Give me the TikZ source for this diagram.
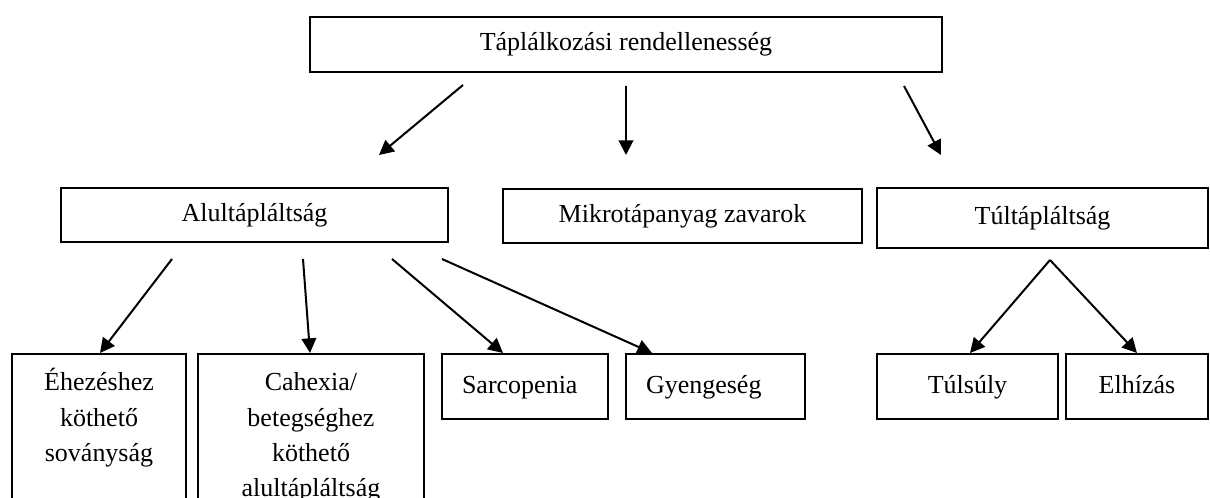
\documentclass[tikz,border=0pt]{standalone}
\usepackage{fontspec}
\setmainfont{Liberation Serif}
\usetikzlibrary{arrows.meta}
\begin{document}
\begin{tikzpicture}[x=0.75pt,y=-0.75pt,
  box/.style={draw, line width=1.5pt, inner xsep=4pt, font=\fontsize{19.5}{26.5}\selectfont},
  topbox/.style={box, align=center, anchor=north, inner ysep=9pt},
  leftbox/.style={topbox, align=left, inner xsep=15pt},
  arr/.style={line width=1.5pt, -{Triangle[length=11pt,width=11pt]}}]
\useasboundingbox (0,0) rectangle (1210,498);
\fill[white] (0,0) rectangle (1210,498);
% level 1
\node[box, minimum width=474pt, minimum height=41.25pt] (top) at (626,44.5) {Táplálkozási rendellenesség};
% level 2
\node[box, minimum width=290.25pt, minimum height=40.5pt] (alul) at (254.5,215) {Alultápláltság};
\node[box, minimum width=269.25pt, minimum height=40.5pt] (mikro) at (682.5,216) {Mikrotápanyag zavarok};
\node[box, minimum width=248.25pt, minimum height=45pt] (tult) at (1042.5,218) {Túltápláltság};
% level 3
\node[topbox, text width=122.5pt] (eh) at (99,353) {\strut Éhezéshez\\köthető\\soványság\\\mbox{}\\\mbox{}};
\node[topbox, text width=161.5pt] (cah) at (311,353) {\strut Cahexia/\\betegséghez\\köthető\\alultápláltság\\\mbox{}};
\node[leftbox, text width=94.5pt, minimum height=48.75pt] (sarc) at (525,353) {\strut Sarcopenia};
\node[leftbox, text width=104.25pt, minimum height=48.75pt] (gyen) at (715.5,353) {\strut Gyengeség};
\node[topbox, text width=127.75pt, minimum height=48.75pt] (tuls) at (967.5,353) {\strut Túlsúly};
\node[topbox, text width=98.5pt, minimum height=48.75pt] (elh) at (1137,353) {\strut Elhízás};
% arrow ends
\coordinate (a1s) at (463,85);  \coordinate (a1e) at (379,155);
\coordinate (a2s) at (626,86);  \coordinate (a2e) at (626,155);
\coordinate (a3s) at (904,86);  \coordinate (a3e) at (941,155);
\coordinate (b1s) at (172,259); \coordinate (b1e) at (100,353);
\coordinate (b2s) at (303,259); \coordinate (b2e) at (310,353);
\coordinate (b3s) at (392,259); \coordinate (b3e) at (503,353);
\coordinate (b4s) at (442,259); \coordinate (b4e) at (652,353);
\coordinate (cs) at (1050,260);
\coordinate (c1e) at (970,353); \coordinate (c2e) at (1137,353);
\draw[arr] (a1s) -- (a1e);
\draw[arr] (a2s) -- (a2e);
\draw[arr] (a3s) -- (a3e);
\draw[arr] (b1s) -- (b1e);
\draw[arr] (b2s) -- (b2e);
\draw[arr] (b3s) -- (b3e);
\draw[arr] (b4s) -- (b4e);
\draw[arr] (cs) -- (c1e);
\draw[arr] (cs) -- (c2e);
\end{tikzpicture}
\end{document}
